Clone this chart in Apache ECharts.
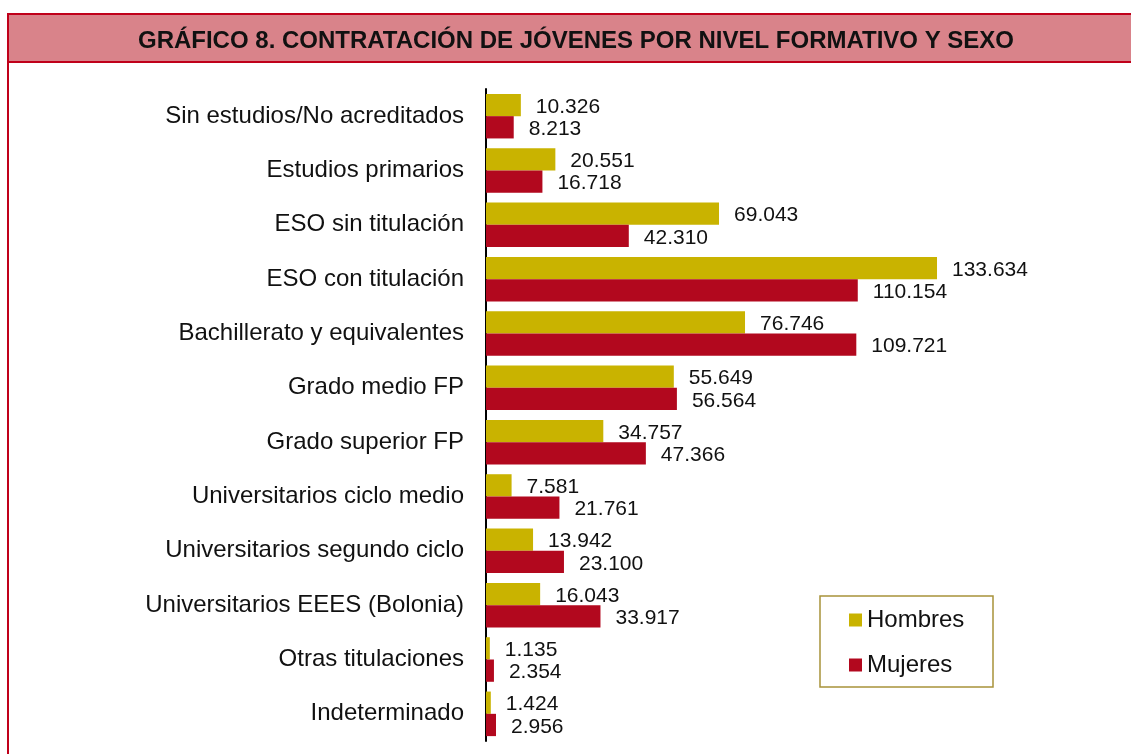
<!DOCTYPE html>
<html>
<head>
<meta charset="utf-8">
<title>Gráfico 8</title>
<script src="https://cdn.jsdelivr.net/npm/echarts@6/dist/echarts.min.js"></script>
<style>
  html, body { margin: 0; padding: 0; background: #fff; }
  #chart { width: 1131px; height: 754px; }
</style>
</head>
<body>
<div id="chart"></div>
<script>
// datos del gráfico
const categorias = [
  'Sin estudios/No acreditados',
  'Estudios primarios',
  'ESO sin titulación',
  'ESO con titulación',
  'Bachillerato y equivalentes',
  'Grado medio FP',
  'Grado superior FP',
  'Universitarios ciclo medio',
  'Universitarios segundo ciclo',
  'Universitarios EEES (Bolonia)',
  'Otras titulaciones',
  'Indeterminado'
]
const hombres = [10326, 20551, 69043, 133634, 76746, 55649, 34757, 7581, 13942, 16043, 1135, 1424]
const mujeres = [8213, 16718, 42310, 110154, 109721, 56564, 47366, 21761, 23100, 33917, 2354, 2956]

const FONT = '"Liberation Sans", Arial, sans-serif'
const ROJO = '#c0001a'

// separador de miles con punto
function miles (v) {
  return String(v).replace(/\B(?=(\d{3})+(?!\d))/g, '.')
}

const chart = echarts.init(document.getElementById('chart'))

const valueLabel = {
  show: true,
  position: 'right',
  distance: 15,
  offset: [0, 2],
  color: '#111',
  fontSize: 21,
  fontFamily: FONT,
  formatter: p => miles(p.value)
}

chart.setOption({
  animation: false,
  textStyle: { fontFamily: FONT },
  title: {
    text: 'GRÁFICO 8. CONTRATACIÓN DE JÓVENES POR NIVEL FORMATIVO Y SEXO',
    left: 571,
    top: 24,
    textAlign: 'center',
    textStyle: {
      fontSize: 24,
      fontWeight: 'bold',
      color: '#111',
      fontFamily: FONT
    }
  },
  graphic: [
    {
      type: 'rect',
      z: 0,
      shape: { x: 8, y: 14, width: 1140, height: 760 },
      style: { fill: 'none', stroke: ROJO, lineWidth: 2 }
    },
    {
      type: 'rect',
      z: 0,
      shape: { x: 8, y: 14, width: 1140, height: 48 },
      style: { fill: '#d9838a', stroke: ROJO, lineWidth: 2 }
    },
    {
      type: 'rect',
      z: 0,
      shape: { x: 820, y: 596, width: 173, height: 91 },
      style: { fill: '#fff', stroke: '#a8923a', lineWidth: 1.5 }
    }
  ],
  legend: {
    orient: 'vertical',
    left: 849,
    top: 608,
    padding: 0,
    itemWidth: 13,
    itemHeight: 13,
    itemGap: 21,
    icon: 'rect',
    textStyle: { fontSize: 24, lineHeight: 24, color: '#111', fontFamily: FONT },
    data: ['Hombres', 'Mujeres']
  },
  grid: {
    left: 486,
    right: 105,
    top: 89,
    bottom: 13
  },
  xAxis: {
    type: 'value',
    min: 0,
    max: 160000,
    show: false,
    splitLine: { show: false }
  },
  yAxis: {
    type: 'category',
    inverse: true,
    data: categorias,
    axisLine: { show: true, lineStyle: { color: '#000', width: 2 } },
    axisTick: { show: false },
    axisLabel: {
      margin: 22,
      fontSize: 24,
      color: '#111',
      fontFamily: FONT
    }
  },
  series: [
    {
      name: 'Hombres',
      type: 'bar',
      data: hombres,
      barGap: '0%',
      barCategoryGap: '18%',
      itemStyle: { color: '#c9b300' },
      label: valueLabel
    },
    {
      name: 'Mujeres',
      type: 'bar',
      data: mujeres,
      itemStyle: { color: '#b2081e' },
      label: valueLabel
    }
  ]
})
</script>
</body>
</html>
